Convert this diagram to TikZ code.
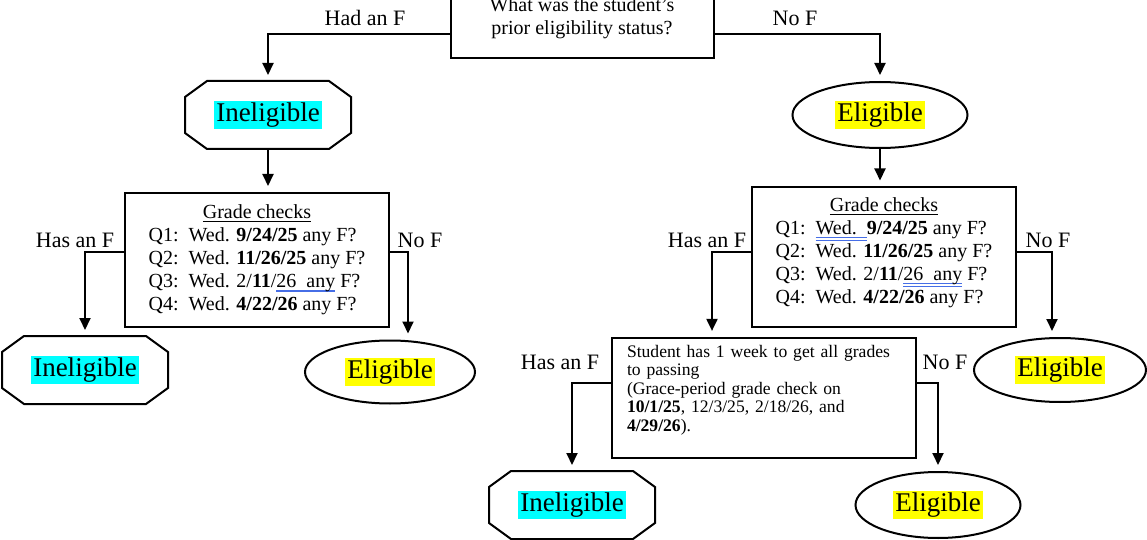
\documentclass[tikz,border=0pt]{standalone}
\usepackage{fontspec}
\setmainfont{Liberation Serif}
\usetikzlibrary{shapes}
\usetikzlibrary{arrows.meta}

\definecolor{tuerkis}{RGB}{0,255,255}
\definecolor{gelb}{RGB}{255,255,0}
\definecolor{wellenblau}{RGB}{70,110,230}
\newcommand{\inelig}{{\setlength{\fboxsep}{1pt}\colorbox{tuerkis}{Ineligible}}}
\newcommand{\elig}{{\setlength{\fboxsep}{1pt}\colorbox{gelb}{Eligible}}}
% Rechtschreib-Unterstreichung
\newlength{\wellenbreite}
\newcommand{\welle}[1]{\settowidth{\wellenbreite}{#1}\rlap{\color{wellenblau}\rule[-2pt]{\wellenbreite}{0.6pt}}#1}
\newcommand{\wwelle}[1]{\settowidth{\wellenbreite}{#1}\rlap{\color{wellenblau}\rule[-1.8pt]{\wellenbreite}{0.5pt}}%
	\rlap{\color{wellenblau}\rule[-3pt]{\wellenbreite}{0.5pt}}#1}
% Achteck um einen Knoten
\newcommand{\achteckrand}[1]{\draw ([xshift=11pt]#1.north west) -- ([xshift=-11pt]#1.north east)
	-- ([yshift=-8pt]#1.north east) -- ([yshift=8pt]#1.south east) -- ([xshift=-11pt]#1.south east)
	-- ([xshift=11pt]#1.south west) -- ([yshift=8pt]#1.south west) -- ([yshift=-8pt]#1.north west) -- cycle;}

\begin{document}
\begin{tikzpicture}[x=0.5pt, y=-0.5pt, line width=1pt,
	kasten/.style={draw, rectangle, inner sep=2pt},
	achteck/.style={rectangle, minimum width=82pt, minimum height=33pt, inner sep=0pt, font=\fontsize{13.5}{15}\selectfont},
	oval/.style={draw, ellipse, minimum width=86pt, minimum height=32pt, inner sep=0pt, font=\fontsize{13.5}{15}\selectfont},
	zweig/.style={font=\fontsize{11}{13}\selectfont},
	pfeil/.style={-{Triangle[length=6pt,width=5.5pt]}, shorten >=3pt}]
\useasboundingbox (0,0) rectangle (1147,540);

% Frage oben
\node[kasten, minimum width=131.5pt, minimum height=40pt, align=center, font=\fontsize{10}{11.5}\selectfont]
	(frage) at (582,18) {What was the student’s\\prior eligibility status?};

% erste Ebene
\node[achteck] (inel1) at (268,115) {\inelig};
\achteckrand{inel1}
\node[oval, minimum width=87.5pt, minimum height=33pt] (elig1) at (880,115) {\elig};
\node[zweig] (hatte) at (365,18) {Had an F};
\node[zweig] (keine) at (795,18) {No F};
\draw[pfeil] ([yshift=-8pt]frage.west) -| (inel1.north);
\draw[pfeil] ([yshift=-8pt]frage.east) -| (elig1.north);

% Notenkontrollen
\begin{scope}[font=\fontsize{10}{11.5}\selectfont]
	\node[kasten, minimum width=132pt, minimum height=67pt] (grade1) at (257,260) {\begin{tabular}{@{}l@{}}
		\multicolumn{1}{@{}c@{}}{\underline{Grade checks}}\\
		Q1:\ \ Wed. \textbf{9/24/25} any F?\\
		Q2:\ \ Wed. \textbf{11/26/25} any F?\\
		Q3:\ \ Wed. 2/\textbf{11}/\welle{26\ \ any} F?\\
		Q4:\ \ Wed. \textbf{4/22/26} any F?
	\end{tabular}};
	\node[kasten, minimum width=132pt, minimum height=69.5pt] (grade2) at (884,257) {\begin{tabular}{@{}l@{}}
		\multicolumn{1}{@{}c@{}}{\underline{Grade checks}}\\
		Q1:\ \ \wwelle{Wed.\ \ }\textbf{9/24/25} any F?\\
		Q2:\ \ Wed. \textbf{11/26/25} any F?\\
		Q3:\ \ Wed. 2/\textbf{11}/\wwelle{26\ \ any} F?\\
		Q4:\ \ Wed. \textbf{4/22/26} any F?\\[4pt]
	\end{tabular}};
\end{scope}
\draw[pfeil] (inel1.south) -- (inel1.south |- grade1.north);
\draw[pfeil] (elig1.south) -- (elig1.south |- grade2.north);

% links unten
\node[achteck] (inel2) at (85,370) {\inelig};
\achteckrand{inel2}
\node[oval, minimum width=85pt, minimum height=31.5pt] (elig2) at (390,372) {\elig};
\node[zweig] (hat1) at (75,240) {Has an F};
\node[zweig] (nein1) at (420,240) {No F};
\draw[pfeil] ([yshift=4pt]grade1.west) -| (inel2.north);
\draw[pfeil] ([yshift=4pt]grade1.east) -| ([xshift=9pt]elig2.north);

% rechts: Gnadenfrist
\node[kasten, text width=137pt, inner xsep=7.5pt, inner ysep=3.5pt, align=left, font=\fontsize{8.8}{9.3}\selectfont]
	(grace) at (764,398) {Student has 1 week to get all grades\\
	to passing\\
	(Grace-period grade check on\\
	\textbf{10/1/25}, 12/3/25, 2/18/26, and\\
	\textbf{4/29/26}).\\[0.5pt]
	\mbox{}};
\node[oval] (elig3) at (1060,370) {\elig};
\node[zweig] (hat2) at (707,240) {Has an F};
\node[zweig] (nein2) at (1048,240) {No F};
\draw[pfeil] ([yshift=2.5pt]grade2.west) -| ([xshift=-26pt]grace.north);
\draw[pfeil] ([yshift=2.5pt]grade2.east) -| ([xshift=-4pt]elig3.north);

% ganz unten
\node[achteck] (inel3) at (572,505) {\inelig};
\achteckrand{inel3}
\node[oval, minimum width=82.5pt, minimum height=33pt] (elig4) at (938,505) {\elig};
\node[zweig] (hat3) at (560,362) {Has an F};
\node[zweig] (nein3) at (945,362) {No F};
\draw[pfeil] ([yshift=7.5pt]grace.west) -| (inel3.north);
\draw[pfeil] ([yshift=7.5pt]grace.east) -| (elig4.north);
\end{tikzpicture}
\end{document}
